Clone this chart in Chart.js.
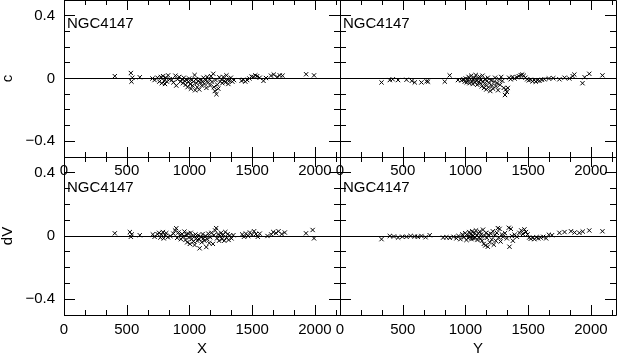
<!DOCTYPE html>
<html>
<head>
<meta charset="utf-8">
<script src="https://cdn.jsdelivr.net/npm/chart.js@4.4.1/dist/chart.umd.min.js"></script>
<style>
  html, body { margin: 0; padding: 0; background: #fff; overflow: hidden; width: 617px; height: 353px; }
  canvas { position: absolute; left: 0; top: 0; }
</style>
</head>
<body>
<canvas id="tl" width="617" height="370"></canvas>
<canvas id="tr" width="617" height="370"></canvas>
<canvas id="bl" width="617" height="370"></canvas>
<canvas id="br" width="617" height="370"></canvas>
<script>
// --- data ---
const objectName = 'NGC4147';
const xTicks = [0, 500, 1000, 1500, 2000];
const yTicks = [-0.4, 0, 0.4];

// X vs c
const xcPoints = [
  [405,0.015],[533,0.035],[538,-0.02],[545,0.005],[604,0.008],[705,0],[722,-0.01],[745,0.005],
  [760,-0.02],[772,0.01],[780,-0.03],[790,0.015],[798,-0.015],[805,-0.035],[812,0.005],[820,-0.02],
  [830,0.02],[843,-0.005],[858,-0.01],[872,-0.025],[888,0.018],[895,-0.045],[905,-0.005],[918,0.01],
  [928,-0.02],[940,-0.005],[948,-0.03],[955,0.005],[962,-0.015],[970,-0.04],[978,-0.01],[985,-0.055],
  [992,-0.02],[998,0],[1005,-0.035],[1012,-0.065],[1018,-0.01],[1025,-0.045],[1032,-0.02],[1041,0.022],
  [1045,-0.075],[1050,-0.005],[1056,-0.03],[1062,-0.055],[1070,-0.015],[1078,-0.07],[1085,-0.025],
  [1092,-0.008],[1098,-0.045],[1105,-0.02],[1112,0.005],[1120,-0.035],[1128,-0.012],[1135,-0.06],
  [1142,0.01],[1150,-0.025],[1158,-0.005],[1165,-0.045],[1172,0.015],[1180,-0.02],[1190,0.03],
  [1195,-0.055],[1202,-0.08],[1208,-0.01],[1215,-0.1],[1222,-0.04],[1230,-0.065],[1238,0.008],
  [1245,-0.02],[1255,-0.005],[1262,-0.03],[1270,0.01],[1278,-0.015],[1286,-0.025],[1295,0.02],
  [1302,-0.008],[1310,-0.035],[1320,-0.012],[1330,0.005],[1342,-0.02],[1355,-0.01],[1415,-0.015],
  [1430,-0.008],[1445,-0.02],[1460,-0.01],[1478,0],[1495,0.012],[1510,0.01],[1525,0.02],[1540,0.015],
  [1560,0.005],[1590,-0.015],[1610,0.003],[1650,0.018],[1672,0.025],[1700,0.01],[1720,0.02],
  [1742,0.018],[1930,0.027],[1993,0.02]
];

// Y vs c
const ycPoints = [
  [331,-0.025],[397,-0.01],[420,-0.005],[463,-0.01],[530,-0.008],[572,-0.015],[596,-0.025],[649,-0.025],
  [690,-0.018],[702,-0.02],[835,-0.02],[874,0.02],[940,-0.01],[968,-0.012],[985,-0.005],[995,-0.02],
  [1002,0],[1010,-0.025],[1018,-0.01],[1025,0.01],[1032,-0.03],[1040,-0.005],[1046,0.018],[1052,-0.02],
  [1058,-0.035],[1064,-0.008],[1070,0.005],[1076,-0.025],[1082,0.022],[1088,-0.015],[1094,-0.04],
  [1100,0],[1106,-0.02],[1112,0.012],[1118,-0.03],[1124,-0.01],[1130,-0.05],[1136,0.018],[1142,-0.022],
  [1148,-0.06],[1154,-0.005],[1160,-0.04],[1166,-0.07],[1172,-0.015],[1178,0.005],[1184,-0.055],
  [1190,-0.03],[1198,-0.08],[1205,-0.01],[1212,-0.045],[1220,-0.065],[1228,-0.02],[1236,0.005],
  [1244,-0.05],[1252,-0.03],[1260,-0.075],[1268,-0.005],[1276,-0.04],[1285,0.01],[1294,-0.015],
  [1305,-0.06],[1315,-0.105],[1322,-0.07],[1330,-0.085],[1338,-0.06],[1348,0.005],[1360,-0.005],
  [1375,0.01],[1392,0],[1410,0.008],[1425,0.015],[1440,0.022],[1452,0.025],[1465,0.018],[1478,0.005],
  [1492,-0.005],[1505,-0.012],[1520,-0.008],[1535,-0.018],[1548,-0.01],[1560,-0.02],[1575,-0.012],
  [1590,-0.015],[1610,-0.008],[1630,-0.005],[1665,0],[1700,0.002],[1749,-0.005],[1790,0.005],
  [1828,0],[1855,0.015],[1868,0.025],[1933,-0.03],[1950,0.008],[1987,0.03],[2092,0.02]
];

// X vs dV
const xdvPoints = [
  [405,0.017],[525,0.025],[533,-0.005],[540,0.01],[604,0.005],[708,0.01],[722,-0.005],[745,0.012],
  [758,0.02],[768,-0.01],[778,0.008],[788,0.025],[795,-0.015],[805,0.005],[815,0.018],[828,-0.008],
  [848,0],[872,0.015],[885,0.035],[895,0.049],[902,-0.012],[912,0.022],[922,0.005],[932,-0.02],
  [942,0.012],[952,-0.005],[960,0.028],[968,-0.025],[975,0.008],[982,-0.04],[990,0.015],[996,-0.01],
  [1003,-0.05],[1010,0.02],[1018,-0.02],[1025,0],[1032,-0.035],[1041,-0.057],[1048,0.01],[1055,-0.015],
  [1062,-0.03],[1070,0.005],[1078,-0.02],[1081,-0.078],[1090,-0.005],[1098,-0.04],[1105,0.012],
  [1112,-0.015],[1120,-0.03],[1128,0],[1134,-0.07],[1142,-0.02],[1150,0.015],[1158,-0.045],
  [1165,-0.008],[1175,0.02],[1187,-0.05],[1195,0.005],[1205,0.035],[1213,0.05],[1220,-0.015],
  [1228,0.01],[1236,-0.03],[1245,0],[1252,0.02],[1260,-0.02],[1270,0.008],[1278,-0.03],[1286,0.025],
  [1295,-0.01],[1305,0.012],[1312,-0.025],[1322,0.003],[1335,-0.015],[1350,0.005],[1420,0.01],
  [1435,-0.005],[1450,0.015],[1468,0],[1482,0.022],[1498,0.008],[1515,0.03],[1530,0.012],
  [1545,-0.005],[1560,0.015],[1622,0],[1652,0.01],[1668,0.025],[1690,0.018],[1710,0.03],
  [1735,0.012],[1760,0.022],[1929,0.017],[1982,0.038],[1993,-0.015]
];

// Y vs dV
const ydvPoints = [
  [331,-0.02],[397,0],[430,-0.003],[463,-0.01],[497,-0.005],[530,-0.005],[563,0],[596,-0.003],
  [620,-0.005],[649,0],[682,-0.008],[715,0.005],[822,-0.01],[848,-0.008],[875,-0.012],[905,-0.005],
  [928,-0.015],[945,0],[960,-0.02],[975,0.01],[988,-0.008],[998,0.018],[1008,-0.025],[1015,0.005],
  [1022,-0.012],[1030,0.025],[1036,-0.005],[1042,0.012],[1048,-0.02],[1054,0.03],[1060,0],[1066,-0.015],
  [1072,0.02],[1078,-0.01],[1084,0.035],[1090,0.005],[1096,-0.025],[1102,0.015],[1108,-0.008],
  [1114,0.028],[1120,-0.018],[1126,0.01],[1132,-0.03],[1140,0.04],[1146,-0.05],[1152,0],[1158,-0.06],
  [1164,0.02],[1170,-0.012],[1178,-0.068],[1186,0.008],[1194,-0.04],[1202,0.015],[1210,-0.022],
  [1218,0.03],[1226,-0.055],[1234,0.005],[1242,-0.03],[1250,0.02],[1258,0.05],[1266,-0.01],
  [1272,0.045],[1280,-0.035],[1290,0.01],[1300,-0.005],[1315,0.018],[1330,-0.015],[1345,0.052],
  [1351,-0.068],[1362,0.045],[1370,0],[1378,-0.03],[1392,0.008],[1410,-0.005],[1430,0.02],
  [1445,0.035],[1458,0.012],[1470,0.042],[1482,0.025],[1495,0.01],[1508,-0.01],[1520,-0.018],
  [1537,-0.012],[1550,-0.02],[1565,-0.008],[1580,-0.015],[1600,-0.01],[1620,-0.005],[1643,-0.015],
  [1665,0.008],[1690,0.005],[1749,0.02],[1790,0.025],[1841,0.03],[1870,0.022],[1908,0.02],
  [1935,0.028],[1987,0.035],[2092,0.03]
];

const W = 617, H = 370;
const font = { family: 'Liberation Sans', size: 15, lineHeight: 1 };

const panels = [
  { id: 'tl', pts: xcPoints,  box: { l: 64,  t: 0,   r: 340, b: 157 }, yTitle: 'c',  xTitle: '',  showY: true,  xH: 30, labelDy: 24 },
  { id: 'tr', pts: ycPoints,  box: { l: 340, t: 0,   r: 616, b: 157 }, yTitle: '',   xTitle: '',  showY: false, xH: 30, labelDy: 24 },
  { id: 'bl', pts: xdvPoints, box: { l: 64,  t: 157, r: 340, b: 315 }, yTitle: 'dV', xTitle: 'X', showY: true,  xH: 41, labelDy: 31 },
  { id: 'br', pts: ydvPoints, box: { l: 340, t: 157, r: 616, b: 315 }, yTitle: '',   xTitle: 'Y', showY: false, xH: 41, labelDy: 31 }
];

// frame, zero line, inward ticks on every side, object label
const framePlugin = {
  id: 'frame',
  afterDatasetsDraw(chart, args, opts) {
    const { ctx, chartArea: a, scales: { x, y } } = chart;
    ctx.save();
    ctx.strokeStyle = '#000';
    ctx.lineWidth = 1;
    ctx.beginPath();
    ctx.rect(a.left + 0.5, a.top + 0.5, a.right - a.left, a.bottom - a.top);
    const y0 = Math.floor(y.getPixelForValue(0)) + 0.5;
    ctx.moveTo(a.left, y0);
    ctx.lineTo(a.right, y0);
    // x ticks: major every 500, minor in thirds
    for (let k = 0; k * 500 / 3 <= x.max; k++) {
      const px = Math.round(x.getPixelForValue(k * 500 / 3)) + 0.5;
      const len = k % 3 === 0 ? 10 : 5;
      ctx.moveTo(px, a.bottom); ctx.lineTo(px, a.bottom - len);
      ctx.moveTo(px, a.top); ctx.lineTo(px, a.top + len);
    }
    // y ticks: minor every 0.1, major every 0.4
    for (let k = -5; k <= 5; k++) {
      const py = Math.floor(y.getPixelForValue(k / 10)) + 0.5;
      const len = k % 4 === 0 ? 11 : 6;
      ctx.moveTo(a.left, py); ctx.lineTo(a.left + len, py);
      ctx.moveTo(a.right, py); ctx.lineTo(a.right - len, py);
    }
    ctx.stroke();
    ctx.fillStyle = '#000';
    ctx.font = '15px "Liberation Sans"';
    ctx.textBaseline = 'middle';
    ctx.textAlign = 'left';
    ctx.fillText(objectName, a.left + 3, a.top + opts.dy);
    ctx.restore();
  }
};

const fmtY = v => v === 0 ? '0' : (v < 0 ? '\u2212' : '') + Math.abs(v).toFixed(1);

panels.forEach(p => {
  new Chart(document.getElementById(p.id), {
    type: 'scatter',
    data: {
      datasets: [{
        data: p.pts.map(([x, y]) => ({ x, y })),
        pointStyle: 'crossRot',
        pointRadius: 3,
        borderColor: '#000',
        backgroundColor: '#000',
        borderWidth: 1
      }]
    },
    options: {
      responsive: false, animation: false, events: [], devicePixelRatio: 1,
      layout: {
        autoPadding: false,
        padding: { left: p.box.l - (p.showY ? 64 : 0), top: p.box.t, right: W - p.box.r, bottom: H - p.box.b - p.xH }
      },
      plugins: { legend: { display: false }, tooltip: { enabled: false }, frame: { dy: p.labelDy } },
      scales: {
        x: {
          type: 'linear', min: 0, max: 2200,
          grid: { display: false, drawTicks: false }, border: { display: false },
          ticks: { padding: p.xTitle ? 7 : 6, color: '#000', font, maxRotation: 0, autoSkip: false, callback: v => String(v) },
          title: { display: !!p.xTitle, text: p.xTitle, color: '#000', font, padding: 0 },
          afterBuildTicks: s => { s.ticks = xTicks.map(v => ({ value: v })); },
          afterFit: s => { s.height = p.xH; s.paddingLeft = 0; s.paddingRight = 0; }
        },
        y: {
          type: 'linear', min: -0.5, max: 0.5, display: p.showY,
          grid: { display: false, drawTicks: false }, border: { display: false },
          ticks: { padding: 9, color: '#000', font, autoSkip: false, callback: fmtY },
          title: { display: !!p.yTitle, text: p.yTitle, color: '#000', font, padding: 0 },
          afterBuildTicks: s => { s.ticks = yTicks.map(v => ({ value: v })); },
          afterFit: s => { s.width = p.showY ? 64 : 0; s.paddingTop = 0; s.paddingBottom = 0; }
        }
      }
    },
    plugins: [framePlugin]
  });
});
</script>
</body>
</html>
